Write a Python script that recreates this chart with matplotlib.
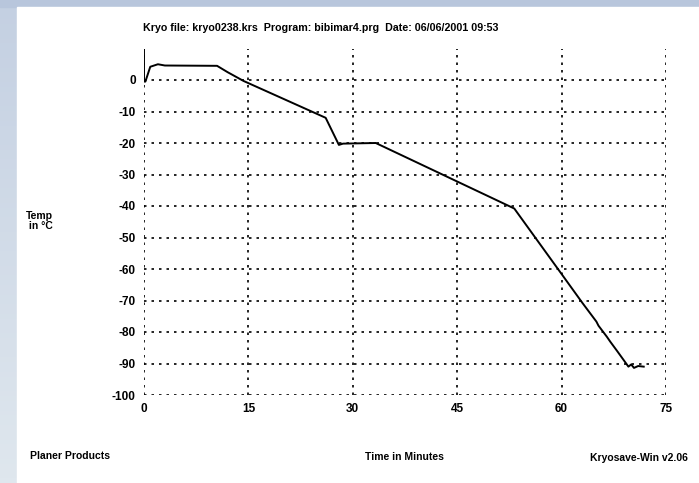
import numpy as np
import matplotlib
matplotlib.use("Agg")
import matplotlib.pyplot as plt

# Kryo run trace
time_min = [0, 0, 0.2, 0.9, 2.0, 3.0, 10.5, 12.0, 14.3, 26.1, 28.0, 28.6, 33.3,
            53.2, 60.0, 63.0, 65.0, 65.3, 66.5, 67.0, 68.0, 69.6, 70.0, 70.4, 71.0, 71.8]
temp_c = [10.8, -0.5, -0.5, 4.2, 5.0, 4.6, 4.5, 2.5, -0.3, -12.0, -20.6, -20.2, -20.0,
          -40.8, -61.6, -70.8, -76.7, -78.0, -81.5, -83.1, -86.1, -91.0, -90.3, -91.4, -90.8, -91.0]

x_ticks = [0, 15, 30, 45, 60, 75]
y_ticks = [0, -10, -20, -30, -40, -50, -60, -70, -80, -90, -100]

plt.rcParams['font.family'] = ['Liberation Sans', 'DejaVu Sans']
plt.rcParams['axes.unicode_minus'] = False

fig = plt.figure(figsize=(6.99, 4.83), dpi=100)

# blue frame behind the white sheet
bg = fig.add_axes([0, 0, 1, 1])
grad = np.linspace(0, 1, 100)[:, None] * np.ones((1, 100))
cmap = matplotlib.colors.LinearSegmentedColormap.from_list("frame", ["#c4d0e2", "#dfe7ee"])
bg.imshow(grad, cmap=cmap, aspect='auto', extent=[0, 1, 0, 1], origin='upper')
bg.add_patch(plt.Rectangle((0, 1 - 7 / 483), 1, 7 / 483, color='#b8c6dc'))
bg.add_patch(plt.Rectangle((17 / 699, 0), 1, 1 - 7 / 483, color='white'))
bg.set_xlim(0, 1)
bg.set_ylim(0, 1)
bg.axis('off')

ax = fig.add_axes([144 / 699, 1 - 395 / 483, 522 / 699, 346.5 / 483])
ax.patch.set_alpha(0)
ax.plot(time_min, temp_c, color='black', linewidth=1.4)
ax.set_xlim(0, 75)
ax.set_ylim(-100, 10)
ax.set_xticks(x_ticks)
ax.set_yticks(y_ticks)
ax.grid(True, color='black', linestyle=(0, (1.5, 3)), linewidth=1.2)
for s in ax.spines.values():
    s.set_visible(False)
ax.tick_params(length=0, labelsize=8.5, pad=6)
for lab in ax.get_xticklabels() + ax.get_yticklabels():
    lab.set_fontweight('bold')

fig.text(143 / 699, 1 - 28 / 483,
         "Kryo file: kryo0238.krs  Program: bibimar4.prg  Date: 06/06/2001 09:53",
         fontsize=7.7, fontweight='bold', va='center', ha='left')
fig.text(26 / 699, 1 - 221 / 483, "Temp\n in \u00b0C", fontsize=7.5, fontweight='bold',
         va='center', ha='left', linespacing=0.9)
fig.text(30 / 699, 1 - 456 / 483, "Planer Products", fontsize=7.5, fontweight='bold',
         va='center', ha='left')
fig.text(365 / 699, 1 - 457 / 483, "Time in Minutes", fontsize=7.5, fontweight='bold',
         va='center', ha='left')
fig.text(590 / 699, 1 - 458 / 483, "Kryosave-Win v2.06", fontsize=7.5, fontweight='bold',
         va='center', ha='left')

fig.savefig("out.png", dpi=100)
